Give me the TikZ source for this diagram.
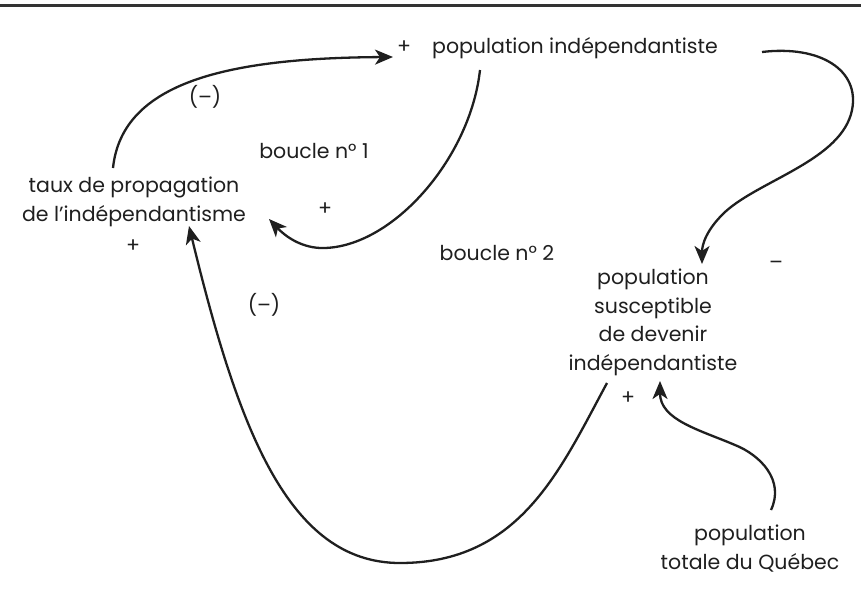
\documentclass[tikz,border=0pt]{standalone}
\usepackage{fontspec}
\setmainfont{Poppins}
\usetikzlibrary{arrows.meta}
\begin{document}
\begin{tikzpicture}[x=1pt,y=-1pt,
  lbl/.style={inner sep=0pt, anchor=base, font=\fontsize{20.5}{28.5}\selectfont, text=black!88},
  multi/.style={lbl, align=center},
  link/.style={line width=2.3pt, draw=black!88,
    -{Stealth[length=18pt,width=15pt,inset=5pt]}},
]
\useasboundingbox (0,0) rectangle (861,613);
% rule across the top
\draw[line width=3pt, black!80] (0,5.5) -- (861,5.5);

% variables (multi-line nodes sit on the baseline of their last line)
\node[lbl] (indep) at (575,53) {population indépendantiste};
\node[lbl] (indepP) at (404,53) {+};
\node[multi] (taux) at (134,221) {taux de propagation\\de l’indépendantisme};
\node[lbl] (tauxP) at (133,252) {+};
\node[multi] (susc) at (653,370) {population\\susceptible\\de devenir\\indépendantiste};
\node[lbl] (suscP) at (628,404) {+};
\node[multi] (total) at (750,569) {population\\totale du Québec};

% polarity and loop labels
\node[lbl] (m1) at (205,104) {(–)};
\node[lbl] (b1) at (314,158) {boucle n° 1};
\node[lbl] (p1) at (325,215) {+};
\node[lbl] (b2) at (497,260) {boucle n° 2};
\node[lbl] (m2) at (776,269) {–};
\node[lbl] (m3) at (264,312) {(–)};

% connector end points
\coordinate (tauxOut) at (113,168);
\coordinate (indepIn) at (393,57);
\coordinate (indepOut) at (480,70);
\coordinate (tauxIn) at (269,219);
\coordinate (indepOut2) at (762,52);
\coordinate (suscIn) at (702,264);
\coordinate (suscOut) at (607,383);
\coordinate (tauxIn2) at (189,226);
\coordinate (totalOut) at (771,510);
\coordinate (suscIn2) at (660,381);

% causal links
\draw[link] (tauxOut) .. controls (122,82) and (228,58) .. (indepIn);
\draw[link] (indepOut) .. controls (470,160) and (390,250) .. (320,248)
  .. controls (300,247) and (285,236) .. (tauxIn);
\draw[link] (indepOut2) .. controls (820,45) and (860,70) .. (852,110)
  .. controls (842,160) and (760,180) .. (725,212)
  .. controls (706,230) and (702,245) .. (suscIn);
\draw[link] (suscOut) .. controls (560,470) and (520,563) .. (400,563)
  .. controls (288,563) and (238,428) .. (tauxIn2);
\draw[link] (totalOut) .. controls (785,480) and (760,455) .. (735,445)
  .. controls (700,430) and (660,420) .. (suscIn2);
\end{tikzpicture}
\end{document}
